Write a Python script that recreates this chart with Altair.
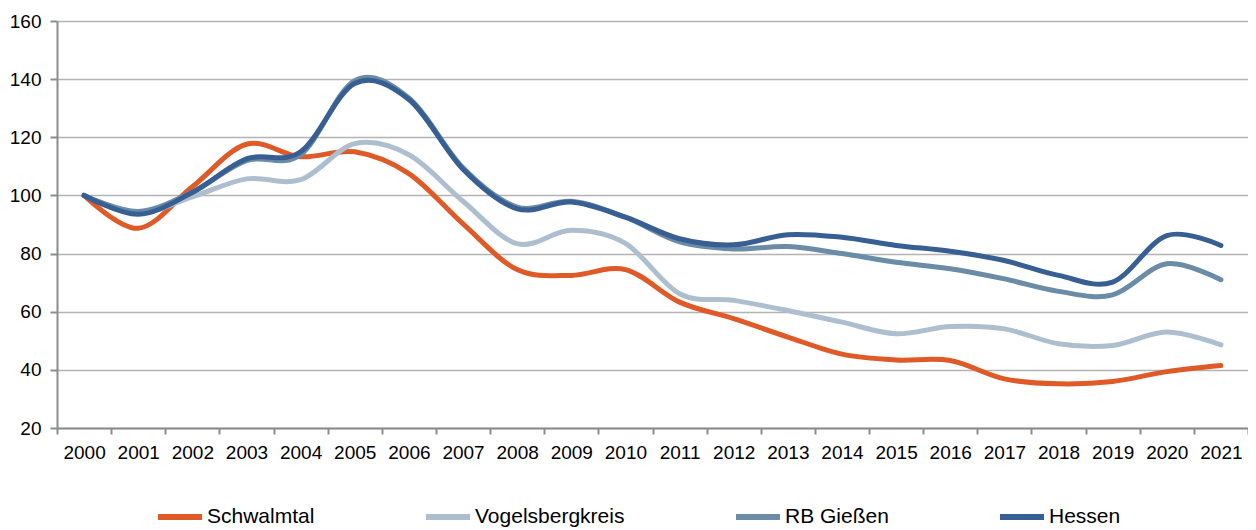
import altair as alt
import pandas as pd

years = [str(y) for y in range(2000, 2022)]
series_names = ["Schwalmtal", "Vogelsbergkreis", "RB Gießen", "Hessen"]
colors = ["#E05A27", "#ADBFCF", "#6B8CA6", "#375F93"]

schwalmtal = [100, 88.7, 103, 117.6, 113.3, 115, 107.5, 90.2, 74.5, 72.5, 74.5, 63.3, 57.6, 51.3,
              45.4, 43.4, 43.2, 36.9, 35.2, 36, 39.4, 41.5]
vogelsberg = [100, 94, 99.5, 105.7, 105.4, 117.8, 114, 98, 83.4, 88, 83.5, 66.2, 63.9, 60.4,
              56.4, 52.4, 54.9, 54.1, 49, 48.4, 53, 48.6]
rb_giessen = [100, 94.5, 101.2, 112, 114, 139.5, 133.5, 109.5, 96, 98, 92.5, 84, 81.6, 82.4,
              80, 77, 74.8, 71.3, 67, 65.8, 76.5, 71]
hessen = [100, 93.5, 101, 112.6, 115, 138.5, 133, 109, 95.4, 97.7, 92.5, 85.1, 83, 86.5,
          85.6, 82.8, 80.8, 77.6, 72.5, 70.2, 86.2, 82.8]

rows = []
for name, vals in zip(series_names, [schwalmtal, vogelsberg, rb_giessen, hessen]):
    for y, v in zip(years, vals):
        rows.append({"Jahr": y, "Wert": v, "Reihe": name})
df = pd.DataFrame(rows)

FONT = "Liberation Sans, Arial, sans-serif"

chart = alt.Chart(df).mark_line(
    strokeWidth=5, interpolate="cardinal", strokeCap="round", strokeJoin="round"
).encode(
    x=alt.X("Jahr:O", title=None,
            scale=alt.Scale(type="band", paddingInner=0, paddingOuter=0),
            bandPosition=0.5,
            axis=alt.Axis(labelAngle=0, tickBand="extent", grid=False,
                          domainColor="#8c8c8c", domainWidth=2,
                          tickColor="#8c8c8c", tickWidth=2, tickSize=6,
                          labelFont=FONT, labelFontSize=19, labelColor="#000000",
                          labelPadding=9)),
    y=alt.Y("Wert:Q", title=None,
            scale=alt.Scale(domain=[20, 160], nice=False, zero=False),
            axis=alt.Axis(values=[20, 40, 60, 80, 100, 120, 140, 160],
                          grid=True, gridColor="#b3b3b3", gridWidth=1.5,
                          domainColor="#8c8c8c", domainWidth=2,
                          tickColor="#8c8c8c", tickWidth=2, tickSize=7,
                          labelFont=FONT, labelFontSize=19, labelColor="#000000",
                          labelPadding=9)),
    color=alt.Color("Reihe:N", sort=series_names,
                    scale=alt.Scale(domain=series_names, range=colors),
                    legend=alt.Legend(title=None, orient="none", direction="horizontal",
                                      legendX=98, legendY=471,
                                      symbolType="stroke", symbolSize=1936,
                                      symbolStrokeWidth=6, labelOffset=2,
                                      columnPadding=99,
                                      labelFont=FONT, labelFontSize=21,
                                      labelColor="#000000", labelLimit=400)),
).properties(
    width=1191, height=407,
    autosize=alt.AutoSizeParams(type="none"),
    padding={"left": 49, "top": 13, "right": 0, "bottom": 102},
).configure_view(stroke=None)

chart.save("out.html", embed_options={"renderer": "svg", "actions": False})
